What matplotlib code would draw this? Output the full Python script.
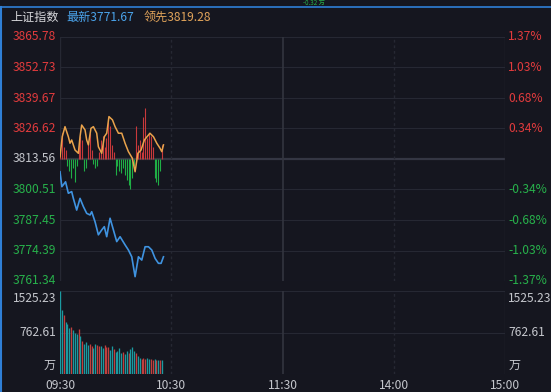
import matplotlib
matplotlib.use("Agg")
import matplotlib.pyplot as plt
import numpy as np

plt.rcParams['font.family'] = ['Noto Sans CJK SC', 'DejaVu Sans']

# ---- data ----
prev_close = 3813.56
latest = 3771.67
leading = 3819.28

# index line (blue): minute since 09:30 -> value
idx_min = [0, 1, 3, 4.5, 6.3, 7.2, 9, 10.8, 12.6, 14.4, 16.2, 17.1, 18.9,
           20.7, 22.5, 23.9, 25.2, 27, 28.8, 30.6, 32.4, 35.1, 36.9, 38.7,
           40.5, 42.3, 44.1, 45.9, 47.7, 49.5, 51.3, 53.1, 54.5, 55.8]
idx_val = [3808.1, 3801.7, 3803.8, 3798.9, 3799.6, 3796.7, 3791.7, 3796.7,
           3793.2, 3790.3, 3789.6, 3791.0, 3786.7, 3781.1, 3783.2, 3784.6,
           3780.3, 3788.2, 3783.2, 3778.2, 3780.3, 3776.8, 3774.6, 3771.7,
           3763.2, 3771.7, 3770.3, 3776.0, 3776.0, 3774.6, 3771.0, 3768.9,
           3768.9, 3771.7]

# leading index (orange)
lead_min = [0, 1.2, 2.7, 4.5, 5.4, 6.3, 8.1, 9.9, 10.8, 11.7, 13.5, 14.4,
            15.3, 16.7, 18, 19.8, 20.7, 22.5, 23.9, 25.2, 26.4, 28.3, 29.7,
            31.5, 33.3, 35.1, 36.9, 39, 40.5, 42, 43.7, 45.5, 48.5, 50.4,
            52.2, 54, 54.9, 55.8]
lead_val = [3814.5, 3823.1, 3827.4, 3823.1, 3820.3, 3821.7, 3817.4, 3816.0,
            3823.1, 3828.1, 3826.0, 3821.7, 3819.6, 3826.7, 3827.4, 3824.6,
            3818.8, 3816.0, 3823.1, 3824.6, 3831.7, 3830.3, 3827.4, 3824.6,
            3824.6, 3820.3, 3816.7, 3813.9, 3808.1, 3816.0, 3817.4, 3821.7,
            3824.6, 3823.1, 3820.3, 3818.1, 3816.7, 3819.6]

# red/green strength bars around previous close (points)
bar_val = [3, 11, 5, 4, -3, -5, -8, -4, -10, -3, 6, 10, 8, -5, -4, 7, 11, 4,
           -2, -4, -3, 3, 8, 10, 5, 9, 16, 14, 6, 3, -7, -3, -5, -6, -4, -7,
           -9, -11, -13, -8, -3, 14, 6, 8, 3, 18, 22, 9, 11, 10, 5, -8, -10,
           -11, -5, 6]

# volume (万)
vol = [1525, 1180, 1090, 960, 920, 850, 870, 800, 760, 740, 830, 700, 600,
       560, 580, 540, 560, 520, 480, 560, 540, 520, 510, 480, 530, 490, 500,
       440, 520, 460, 400, 420, 470, 390, 400, 360, 420, 380, 460, 500, 430,
       380, 330, 290, 280, 300, 270, 290, 280, 270, 260, 280, 260, 250, 260,
       250]
vol_up = [0, 0, 1, 0, 0, 0, 1, 0, 0, 0, 1, 0, 1, 0, 0, 0, 1, 1, 0, 0, 1, 1,
          0, 0, 1, 1, 1, 0, 0, 1, 0, 0, 0, 0, 1, 0, 0, 1, 0, 0, 0, 1, 0, 0,
          1, 1, 1, 0, 0, 1, 1, 0, 1, 0, 1, 0]

price_ticks = [3761.34, 3774.39, 3787.45, 3800.51, 3813.56, 3826.62,
               3839.67, 3852.73, 3865.78]
pct_labels = ['-1.37%', '-1.03%', '-0.68%', '-0.34%', '', '0.34%', '0.68%',
              '1.03%', '1.37%']
vol_ticks = [0, 762.61, 1525.23]
vol_labels = ['万', '762.61', '1525.23']
time_ticks = [0, 60, 120, 180, 240]
time_labels = ['09:30', '10:30', '11:30', '14:00', '15:00']

# ---- style ----
BG = '#15161f'
GRID = '#262833'
RED = '#e23b3d'
GREEN = '#27b14b'
GREY = '#c4c6cc'
FS = 8.7
W, H = 551, 392

fig = plt.figure(figsize=(W / 100, H / 100), dpi=100, facecolor=BG)


def frac(x0, y0, x1, y1):
    return [x0 / W, 1 - y1 / H, (x1 - x0) / W, (y1 - y0) / H]


ax = fig.add_axes(frac(60, 37, 505, 281))
axv = fig.add_axes(frac(60, 291, 505, 374))

for a in (ax, axv):
    a.set_facecolor(BG)
    a.set_xlim(0, 240)
    for s in a.spines.values():
        s.set_visible(False)
    a.set_xticks([])
    a.set_yticks([])
    a.axvline(0, color=GRID, lw=1)
    a.axvline(240, color=GRID, lw=1)
    a.axvline(60, color=GRID, lw=1, ls=(0, (2, 2)))
    a.axvline(120, color='#33353f', lw=1.2)
    a.axvline(180, color=GRID, lw=1, ls=(0, (2, 2)))

ax.set_ylim(price_ticks[0], price_ticks[-1])
for t in price_ticks:
    if t == prev_close:
        ax.axhline(t, color='#343643', lw=1.6, zorder=1)
    else:
        ax.axhline(t, color=GRID, lw=0.8, zorder=1)

# strength bars
mins = np.arange(len(bar_val))
bv = np.array(bar_val, dtype=float)
ax.vlines(mins, prev_close, prev_close + bv, lw=0.8,
          colors=['#c8393b' if v >= 0 else '#1fae45' for v in bv], zorder=2)

ax.plot(idx_min, idx_val, color='#3f93e0', lw=1.2, zorder=3)
ax.plot(lead_min, lead_val, color='#e9a34c', lw=1.1, zorder=4)

# price labels
ytr = ax.get_yaxis_transform()
for t, p in zip(price_ticks, pct_labels):
    c = RED if t > prev_close + 0.01 else (GREEN if t < prev_close - 0.01 else GREY)
    ax.text(-0.009, t, f'{t:.2f}', color=c, fontsize=FS, ha='right',
            va='center', transform=ytr)
    if p:
        ax.text(1.007, t, p, color=c, fontsize=FS, ha='left', va='center',
                transform=ytr)

# volume
axv.set_ylim(0, vol_ticks[-1])
for t in vol_ticks:
    axv.axhline(t, color=GRID, lw=0.8, zorder=1)
vm = np.arange(len(vol))
axv.vlines(vm, 0, vol, lw=0.95,
           colors=['#c23f3e' if u else '#1b9aa0' for u in vol_up], zorder=2)

vtr = axv.get_yaxis_transform()
for t, lab in zip(vol_ticks, vol_labels):
    if t == vol_ticks[-1]:
        yy = t - 0.09 * vol_ticks[-1]
    elif t == 0:
        yy = t + 0.1 * vol_ticks[-1]
    else:
        yy = t
    axv.text(-0.009, yy, lab, color=GREY, fontsize=FS, ha='right',
             va='center', transform=vtr)
    axv.text(1.007, yy, lab, color=GREY, fontsize=FS, ha='left',
             va='center', transform=vtr)

xtr = axv.get_xaxis_transform()
for t, lab in zip(time_ticks, time_labels):
    axv.text(t, -0.135, lab, color=GREY, fontsize=FS, ha='center',
             va='center', transform=xtr)

# header
fig.add_artist(plt.Line2D([0, 1], [1 - 6.5 / H, 1 - 6.5 / H],
                          color='#2f7fd6', lw=1.2, transform=fig.transFigure))
fig.add_artist(plt.Line2D([0.9 / W, 0.9 / W], [0, 1 - 6.5 / H],
                          color='#2f7fd6', lw=1.5, transform=fig.transFigure))
fig.text(303 / W, 1 - 3 / H, '-0.32 万', color=GREEN, fontsize=4.5,
         ha='left', va='center')
fig.text(10 / W, 1 - 17 / H, '上证指数', color='#d6d6da', fontsize=FS,
         ha='left', va='center')
fig.text(66 / W, 1 - 17 / H, f'最新{latest:.2f}', color='#4aa3ea',
         fontsize=FS, ha='left', va='center')
fig.text(144 / W, 1 - 17 / H, f'领先{leading:.2f}', color='#e0a35a',
         fontsize=FS, ha='left', va='center')

fig.savefig('out.png', dpi=100, facecolor=BG)
